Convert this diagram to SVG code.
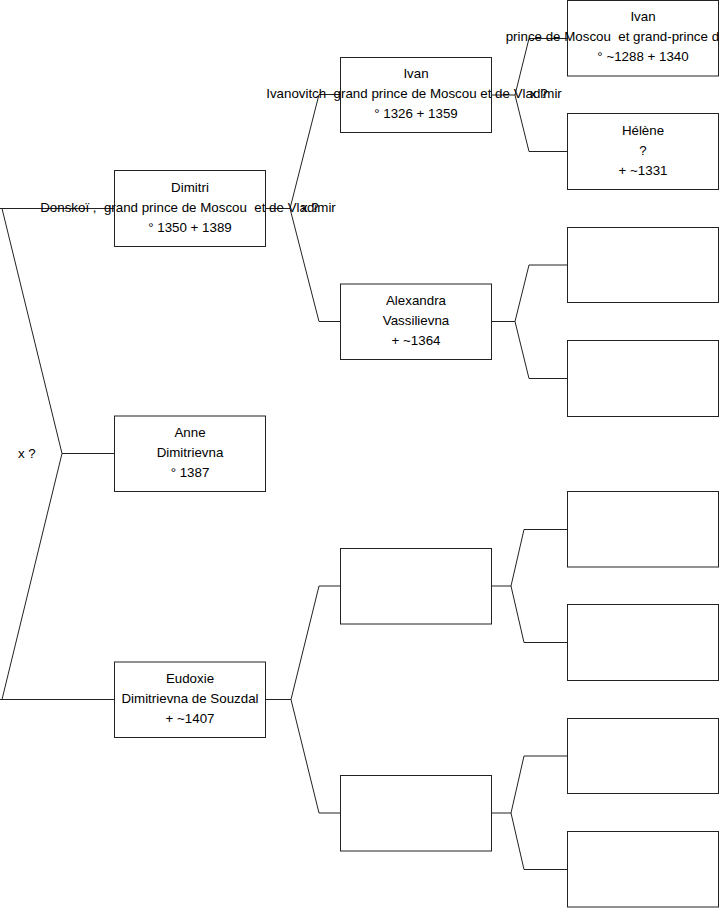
<svg xmlns="http://www.w3.org/2000/svg" width="719" height="908" viewBox="0 0 719 908">
<style>
.box{fill:#fff;stroke:#222;stroke-width:1}
.con{fill:none;stroke:#222;stroke-width:1}
text{font-family:"Liberation Sans",Arial,sans-serif;font-size:13.33px;fill:#000;text-anchor:middle}
.lbl{text-anchor:start}
</style>
<rect width="719" height="908" fill="#fff"/>
<g id="connectors">
<path class="con" d="M0,208.5 H114 M2,208.5 L62,453.5 H114 M62,453.5 L2,699.5 M0,699.5 H114"/>
<path class="con" d="M265,208.5 H290 L319,94.5 H340 M290,208.5 L319,321.5 H340"/>
<path class="con" d="M491,95 H515 L529,38.5 H567 M515,95 L529,151.5 H567"/>
<path class="con" d="M491,321.5 H515 L529,265 H567 M515,321.5 L529,378.5 H567"/>
<path class="con" d="M265,699.5 H291 L319,586 H340 M291,699.5 L319,813 H340"/>
<path class="con" d="M491,586 H511 L524,529.5 H567 M511,586 L524,642.5 H567"/>
<path class="con" d="M491,813 H511 L524,756 H567 M511,813 L524,869.5 H567"/>
<text class="lbl" x="18" y="457.5">x ?</text>
<text class="lbl" x="301" y="211.5">x ?</text>
<text class="lbl" x="530" y="98">x ?</text>
</g>
<g id="dimitri">
<rect class="box" x="114.5" y="170.5" width="151" height="76"/>
<text x="190" y="191.7">Dimitri</text>
<text x="188" y="211.7" xml:space="preserve">Donskoï ,  grand prince de Moscou  et de Vladimir</text>
<text x="190" y="231.7">° 1350 + 1389</text>
</g>
<g id="anne">
<rect class="box" x="114.5" y="416" width="151" height="75.5"/>
<text x="190" y="436.9">Anne</text>
<text x="190" y="456.9">Dimitrievna</text>
<text x="190" y="476.9">° 1387</text>
</g>
<g id="eudoxie">
<rect class="box" x="114.5" y="662" width="151" height="75.5"/>
<text x="190" y="682.9">Eudoxie</text>
<text x="190" y="702.9">Dimitrievna de Souzdal</text>
<text x="190" y="722.9">+ ~1407</text>
</g>
<g id="ivan-ivanovitch">
<rect class="box" x="340.5" y="57.5" width="151" height="75"/>
<text x="416" y="78.2">Ivan</text>
<text x="414" y="98.2" xml:space="preserve">Ivanovitch  grand prince de Moscou et de Vladimir</text>
<text x="416" y="118.2">° 1326 + 1359</text>
</g>
<g id="alexandra">
<rect class="box" x="340.5" y="284" width="151" height="75.5"/>
<text x="416" y="304.9">Alexandra</text>
<text x="416" y="324.9">Vassilievna</text>
<text x="416" y="344.9">+ ~1364</text>
</g>
<g id="eudoxie-father">
<rect class="box" x="340.5" y="548.5" width="151" height="75.5"/>
</g>
<g id="eudoxie-mother">
<rect class="box" x="340.5" y="775.5" width="151" height="75.5"/>
</g>
<g id="ivan-kalita">
<rect class="box" x="567.5" y="0.5" width="151" height="75.5"/>
<text x="643" y="21.3">Ivan</text>
<text x="642" y="41.3" xml:space="preserve">prince de Moscou  et grand-prince de Vladimir</text>
<text x="643" y="61.3">° ~1288 + 1340</text>
</g>
<g id="helene">
<rect class="box" x="567.5" y="113.5" width="151" height="76"/>
<text x="643" y="134.7">Hélène</text>
<text x="643" y="154.7">?</text>
<text x="643" y="174.7">+ ~1331</text>
</g>
<g id="alexandra-father">
<rect class="box" x="567.5" y="227.5" width="151" height="75"/>
</g>
<g id="alexandra-mother">
<rect class="box" x="567.5" y="340.5" width="151" height="76"/>
</g>
<g id="ggp5">
<rect class="box" x="567.5" y="491.5" width="151" height="75.5"/>
</g>
<g id="ggp6">
<rect class="box" x="567.5" y="604.5" width="151" height="76"/>
</g>
<g id="ggp7">
<rect class="box" x="567.5" y="718.5" width="151" height="75"/>
</g>
<g id="ggp8">
<rect class="box" x="567.5" y="831.5" width="151" height="75.5"/>
</g>
</svg>
